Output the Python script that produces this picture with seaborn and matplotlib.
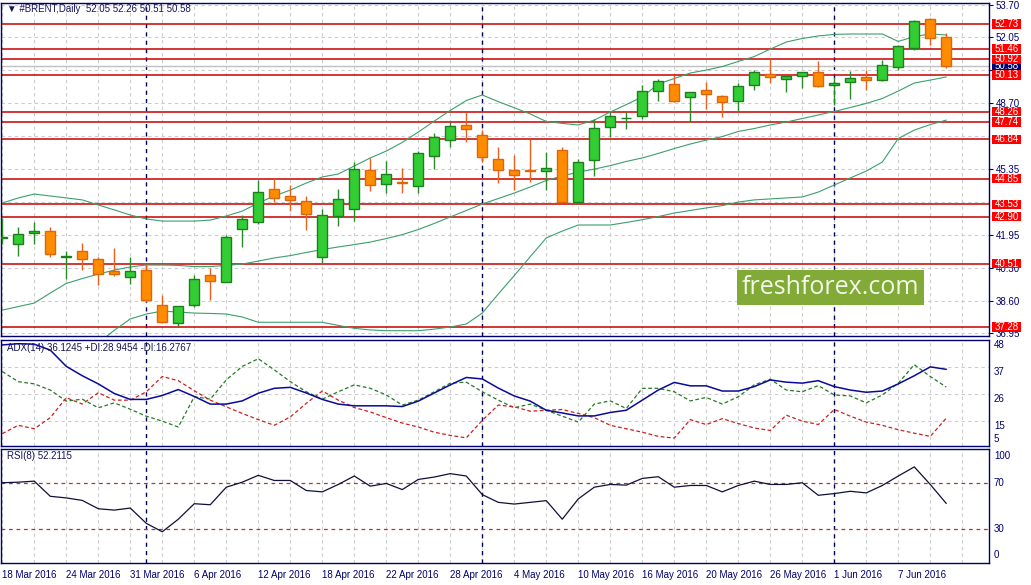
import numpy as np
import pandas as pd
import matplotlib
matplotlib.use("Agg")
import matplotlib.pyplot as plt
import matplotlib.transforms as mtransforms
from matplotlib.patches import Rectangle
import seaborn as sns

sns.set_style("white")
plt.rcParams["font.family"] = ["Liberation Sans", "DejaVu Sans"]

# --- data (one value per daily bar) ---
date_labels = ["18 Mar 2016", "24 Mar 2016", "31 Mar 2016", "6 Apr 2016", "12 Apr 2016",
               "18 Apr 2016", "22 Apr 2016", "28 Apr 2016", "4 May 2016", "10 May 2016",
               "16 May 2016", "20 May 2016", "26 May 2016", "1 Jun 2016", "7 Jun 2016"]

opens = [41.82, 41.53, 42.06, 42.17, 40.84, 41.15, 40.75, 40.13, 39.81, 40.19,
         38.38, 37.47, 38.38, 39.92, 39.59, 42.26, 42.62, 44.32, 43.94, 43.69,
         40.83, 42.95, 43.28, 45.27, 44.59, 44.66, 44.45, 46.01, 46.80, 47.58,
         47.05, 45.85, 45.27, 45.29, 45.22, 46.29, 43.67, 45.78, 47.46, 47.92,
         48.05, 49.30, 49.67, 48.99, 49.35, 49.06, 48.79, 49.63, 50.16, 49.94,
         50.06, 50.27, 49.60, 49.76, 50.01, 49.86, 50.52, 51.52, 52.97, 52.05]
highs = [42.85, 42.38, 42.65, 42.38, 41.15, 41.56, 40.83, 41.31, 40.85, 40.44,
         38.90, 38.35, 39.92, 40.29, 41.97, 42.99, 44.77, 44.86, 44.52, 43.96,
         43.30, 44.32, 45.69, 45.91, 45.74, 45.37, 46.25, 47.16, 47.75, 48.26,
         47.32, 46.46, 46.05, 46.85, 46.20, 46.44, 45.86, 47.87, 48.24, 48.24,
         49.62, 49.93, 50.13, 49.27, 49.77, 49.10, 49.71, 50.37, 50.93, 50.08,
         50.29, 50.84, 50.01, 50.33, 50.37, 50.88, 51.66, 52.93, 53.04, 52.26]
lows = [41.50, 40.91, 41.53, 40.86, 39.74, 40.17, 39.41, 39.86, 39.49, 38.57,
        37.47, 37.33, 38.31, 38.67, 39.55, 41.37, 42.55, 43.67, 43.21, 42.21,
        40.53, 42.41, 42.67, 44.23, 44.11, 44.13, 44.13, 45.35, 46.47, 46.73,
        45.71, 44.64, 44.25, 44.69, 44.28, 43.64, 43.57, 44.99, 46.95, 47.39,
        47.90, 48.82, 48.75, 47.73, 48.41, 48.00, 48.29, 49.35, 49.74, 49.28,
        49.48, 49.53, 48.60, 48.89, 49.35, 49.84, 50.37, 51.42, 51.67, 50.51]
closes = [41.85, 42.01, 42.17, 40.99, 40.88, 40.73, 40.00, 39.97, 40.12, 38.64,
          37.52, 38.33, 39.71, 39.61, 41.85, 42.77, 44.15, 43.84, 43.74, 43.03,
          42.97, 43.79, 45.32, 44.54, 45.07, 44.62, 46.14, 46.95, 47.51, 47.36,
          45.93, 45.27, 45.01, 45.25, 45.37, 43.67, 45.68, 47.41, 48.02, 47.96,
          49.30, 49.81, 48.82, 49.25, 49.18, 48.77, 49.55, 50.27, 50.01, 50.06,
          50.27, 49.55, 49.71, 49.96, 49.89, 50.62, 51.59, 52.87, 52.00, 50.58]

bb_upper = [43.60, 43.86, 44.06, 43.96, 43.86, 43.76, 43.50, 43.25, 42.99, 42.79,
            42.68, 42.68, 42.68, 42.73, 42.94, 43.19, 43.60, 43.96, 44.26, 44.62,
            44.93, 45.08, 45.49, 45.90, 46.25, 46.69, 47.22, 47.78, 48.32, 48.83,
            49.11, 48.77, 48.46, 48.14, 47.76, 47.66, 47.58, 47.83, 48.24, 48.62,
            49.01, 49.67, 49.95, 50.23, 50.38, 50.56, 50.82, 51.07, 51.45, 51.81,
            51.99, 52.12, 52.20, 52.22, 52.22, 52.22, 51.84, 52.09, 52.22, 52.17]
bb_mid = [38.14, 38.32, 38.50, 39.01, 39.50, 39.75, 39.98, 40.18, 40.34, 40.44,
          40.44, 40.42, 40.36, 40.36, 40.42, 40.49, 40.64, 40.80, 40.92, 41.08,
          41.23, 41.36, 41.48, 41.61, 41.79, 41.99, 42.25, 42.56, 42.89, 43.22,
          43.55, 43.83, 44.11, 44.42, 44.75, 44.98, 45.18, 45.33, 45.51, 45.72,
          45.90, 46.13, 46.38, 46.61, 46.81, 46.99, 47.25, 47.40, 47.58, 47.73,
          47.91, 48.09, 48.27, 48.47, 48.68, 48.93, 49.31, 49.72, 49.87, 50.03]
bb_lower = [32.68, 32.78, 32.94, 34.06, 35.14, 35.74, 36.46, 37.11, 37.69, 37.94,
            38.09, 38.04, 37.99, 37.97, 37.94, 37.79, 37.52, 37.52, 37.52, 37.52,
            37.52, 37.36, 37.21, 37.13, 37.09, 37.09, 37.09, 37.17, 37.28, 37.43,
            37.99, 38.96, 39.90, 40.87, 41.82, 42.17, 42.48, 42.48, 42.48, 42.61,
            42.75, 42.91, 43.09, 43.22, 43.35, 43.47, 43.65, 43.76, 43.81, 43.86,
            43.91, 44.16, 44.52, 44.88, 45.23, 45.69, 46.89, 47.32, 47.60, 47.83]

adx = [46.0, 46.5, 46.3, 43.9, 37.3, 33.5, 30.2, 26.3, 23.9, 23.9,
       25.5, 27.9, 25.1, 22.0, 22.0, 23.3, 26.4, 28.4, 28.8, 26.5,
       23.9, 22.0, 21.3, 21.3, 21.3, 21.0, 23.2, 26.5, 29.8, 32.8,
       32.2, 28.5, 25.3, 23.2, 19.5, 18.4, 17.2, 17.2, 18.6, 19.5,
       23.6, 27.7, 30.8, 29.4, 29.4, 27.3, 27.3, 29.1, 31.8, 30.9,
       30.5, 31.5, 29.1, 27.7, 26.8, 27.3, 30.2, 33.5, 37.1, 36.1]
plus_di = [35.2, 31.1, 30.2, 27.7, 23.2, 24.0, 20.5, 22.5, 19.9, 17.1,
           15.1, 12.7, 25.0, 24.0, 31.8, 37.3, 40.4, 35.9, 31.1, 27.0,
           24.0, 27.0, 29.8, 28.4, 25.7, 21.6, 23.6, 27.0, 30.5, 30.9,
           27.0, 23.6, 20.5, 22.0, 19.5, 17.1, 14.7, 22.0, 23.3, 20.2,
           28.4, 28.4, 27.0, 23.3, 24.7, 22.0, 25.0, 29.8, 32.1, 27.7,
           27.0, 29.5, 25.7, 25.3, 22.5, 25.7, 30.5, 38.0, 33.2, 28.9]
minus_di = [10.0, 13.4, 12.0, 16.5, 24.6, 22.0, 26.6, 23.6, 23.6, 27.0,
            33.2, 31.5, 27.4, 23.6, 20.9, 18.2, 15.7, 13.4, 16.8, 22.3,
            27.3, 23.6, 20.6, 18.8, 16.5, 14.3, 12.7, 10.6, 9.3, 8.3,
            15.4, 21.6, 20.9, 19.1, 19.5, 19.8, 18.2, 16.5, 13.4, 12.0,
            10.6, 8.9, 8.2, 15.7, 13.7, 16.1, 14.1, 12.3, 11.3, 17.5,
            15.1, 13.7, 19.8, 17.1, 14.7, 13.4, 11.6, 10.2, 8.9, 16.3]
rsi = [70.4, 70.9, 71.8, 58.5, 57.1, 54.9, 47.6, 46.4, 48.2, 34.8,
       27.4, 38.4, 52.0, 51.1, 66.5, 70.9, 76.9, 72.4, 72.4, 63.6,
       62.4, 68.9, 76.3, 67.4, 69.8, 64.4, 73.3, 75.4, 78.4, 76.3,
       60.0, 53.2, 51.7, 53.2, 54.7, 38.4, 56.2, 66.5, 68.9, 68.3,
       74.2, 75.7, 66.5, 68.0, 68.0, 62.4, 68.0, 71.8, 68.9, 68.9,
       70.4, 59.4, 60.9, 62.9, 61.5, 68.0, 76.3, 84.3, 68.9, 52.2]

levels = [52.73, 51.46, 50.92, 50.13, 48.26, 47.74, 46.84, 44.85, 43.53, 42.90, 40.51, 37.28]
price_grid = [53.70, 52.05, 50.38, 48.70, 47.03, 45.35, 43.65, 41.95, 40.30, 38.60, 36.95]
price_ticks = [53.70, 52.05, 50.38, 48.70, 45.35, 41.95, 40.30, 38.60, 36.95]
last_price = 50.58
month_starts = [9, 30, 52]  # bars of 1 Apr, 2 May, 1 Jun
adx_ticks = [48, 37, 26, 15, 5]
rsi_ticks = [100, 70, 30, 0]

title = "\u25BC #BRENT,Daily  52.05 52.26 50.51 50.58"
adx_title = "ADX(14) 36.1245 +DI:28.9454 -DI:16.2767"
rsi_title = "RSI(8) 52.2115"

df = pd.DataFrame({"open": opens, "high": highs, "low": lows, "close": closes,
                   "upper": bb_upper, "mid": bb_mid, "lower": bb_lower,
                   "adx": adx, "pdi": plus_di, "mdi": minus_di, "rsi": rsi})
df["bar"] = np.arange(len(df))

navy = "#00006E"
grid_c = "#CBCBCB"
red_line = "#C80000"
band_c = "#3C9F6C"

W, H = 1031, 585
fig = plt.figure(figsize=(W / 100, H / 100), dpi=100, facecolor="white")


def px_axes(left, top, right, bottom):
    return fig.add_axes([left / W, 1 - bottom / H, (right - left) / W, (bottom - top) / H])


ax = px_axes(1, 3, 989, 336)
ax_adx = px_axes(1, 340, 989, 446)
ax_rsi = px_axes(1, 449, 989, 563)
axes = [ax, ax_adx, ax_rsi]

for a in axes:
    a.set_xlim(-0.08, 61.67)
    for s in a.spines.values():
        s.set_color(navy)
        s.set_linewidth(1.0)
    for b in range(0, 62, 2):
        a.axvline(b, color=grid_c, lw=0.8, ls=(0, (3, 3)), zorder=0)
    for b in month_starts:
        a.axvline(b, color="#000050", lw=1.0, ls=(0, (3, 3)), zorder=1)

# ---- main price panel ----
ax.set_ylim(36.82, 53.80)
for v in price_grid:
    ax.axhline(v, color=grid_c, lw=0.8, ls=(0, (3, 3)), zorder=0)
ax.axhline(last_price, color="#C0C0C0", lw=1.0, zorder=1)
for lv in levels:
    ax.axhline(lv, color=red_line, lw=1.1, zorder=1.5)

for col in ["upper", "mid", "lower"]:
    sns.lineplot(data=df, x="bar", y=col, ax=ax, color=band_c, lw=0.8, zorder=2)

up = df["close"] >= df["open"]
wick_c = np.where(up, "#2A8A2A", "#E8601C")
fill_c = np.where(up, "#32CD32", "#FF8C00")
edge_c = np.where(up, "#1E7F1E", "#DD650A")
ax.vlines(df["bar"], df["low"], df["high"], colors=wick_c, lw=1.0, zorder=3)
body_lo = np.minimum(df["open"], df["close"])
body_h = np.maximum((df["close"] - df["open"]).abs(), 0.03)
ax.bar(df["bar"], body_h, bottom=body_lo, width=0.64, color=fill_c,
       edgecolor=edge_c, linewidth=1.0, zorder=4)

ax.set_xlabel("")
ax.set_ylabel("")
ax.set_xticks([])
ax.yaxis.tick_right()
ax.set_yticks(price_ticks)
ax.set_yticklabels([f"{v:.2f}" for v in price_ticks])
ax.tick_params(axis="y", colors=navy, labelsize=7, length=3, width=0.8, pad=2)

blend = mtransforms.blended_transform_factory(ax.transAxes, ax.transData)
box_h = 0.48
ax.add_patch(Rectangle((1.003, last_price - box_h / 2), 0.0294, box_h, transform=blend,
                       facecolor=navy, edgecolor="none", clip_on=False, zorder=6))
ax.text(1.0177, last_price, f"{last_price:.2f}", transform=blend, ha="center", va="center",
        fontsize=7, color="white", clip_on=False, zorder=7)
for lv in levels:
    ax.add_patch(Rectangle((1.003, lv - box_h / 2), 0.0294, box_h, transform=blend,
                           facecolor="#FF0000", edgecolor="none", clip_on=False, zorder=8))
    ax.text(1.0177, lv, f"{lv:.2f}", transform=blend, ha="center", va="center",
            fontsize=7, color="white", clip_on=False, zorder=9)

# watermark
ax.add_patch(Rectangle((0.745, 0.094), 0.189, 0.103, transform=ax.transAxes,
                       facecolor="#82AA37", edgecolor="none", zorder=5))
ax.text(0.8395, 0.1455, "freshforex.com", transform=ax.transAxes, ha="center", va="center",
        fontsize=18, color="#F4F8EA", family=["Open Sans", "DejaVu Sans"], zorder=6)

fig.text(7 / W, 1 - 9 / H, title, fontsize=7, color="#14145A", va="center",
         family=["Liberation Sans", "DejaVu Sans"])

# ---- ADX panel ----
ax_adx.set_ylim(5, 48)
for v in [37, 26, 15]:
    ax_adx.axhline(v, color=grid_c, lw=0.8, ls=(0, (3, 3)), zorder=0)
sns.lineplot(data=df, x="bar", y="pdi", ax=ax_adx, color="#237A23", lw=0.9,
             linestyle=(0, (3, 2)), zorder=2)
sns.lineplot(data=df, x="bar", y="mdi", ax=ax_adx, color="#CC2020", lw=0.9,
             linestyle=(0, (3, 2)), zorder=2)
sns.lineplot(data=df, x="bar", y="adx", ax=ax_adx, color="#0A0A9A", lw=1.1, zorder=3)
ax_adx.set_xlabel("")
ax_adx.set_ylabel("")
ax_adx.set_xticks([])
ax_adx.set_yticks([])
blend_adx = mtransforms.blended_transform_factory(ax_adx.transAxes, ax_adx.transData)
for v in adx_ticks:
    ax_adx.text(1.005, v + (0.9 if v == adx_ticks[-1] else 0), str(v), transform=blend_adx,
                ha="left", va="bottom" if v == adx_ticks[-1] else "top",
                fontsize=7, color=navy, clip_on=False)
fig.text(7 / W, 1 - 348 / H, adx_title, fontsize=7, color="#14145A", va="center")

# ---- RSI panel ----
ax_rsi.set_ylim(0, 100)
for v in [70, 30]:
    ax_rsi.axhline(v, color="#C03030", lw=0.9, ls=(0, (3, 3)), zorder=1)
sns.lineplot(data=df, x="bar", y="rsi", ax=ax_rsi, color="#10103A", lw=0.9, zorder=3)
ax_rsi.set_xlabel("")
ax_rsi.set_ylabel("")
ax_rsi.set_yticks([])
blend_rsi = mtransforms.blended_transform_factory(ax_rsi.transAxes, ax_rsi.transData)
for v in rsi_ticks:
    va = "top" if v == 100 else ("bottom" if v == 0 else "center")
    ax_rsi.text(1.005, v + (-2 if v == 100 else (3 if v == 0 else 0)), str(v),
                transform=blend_rsi, ha="left", va=va, fontsize=7, color=navy, clip_on=False)
fig.text(7 / W, 1 - 456 / H, rsi_title, fontsize=7, color="#14145A", va="center")

label_bars = df["bar"][::4].tolist()
ax_rsi.set_xticks(label_bars)
ax_rsi.set_xticklabels(date_labels, ha="left")
ax_rsi.tick_params(axis="x", colors=navy, labelsize=7, length=3, width=0.8, pad=2)

fig.savefig("out.png", dpi=100, facecolor="white")
